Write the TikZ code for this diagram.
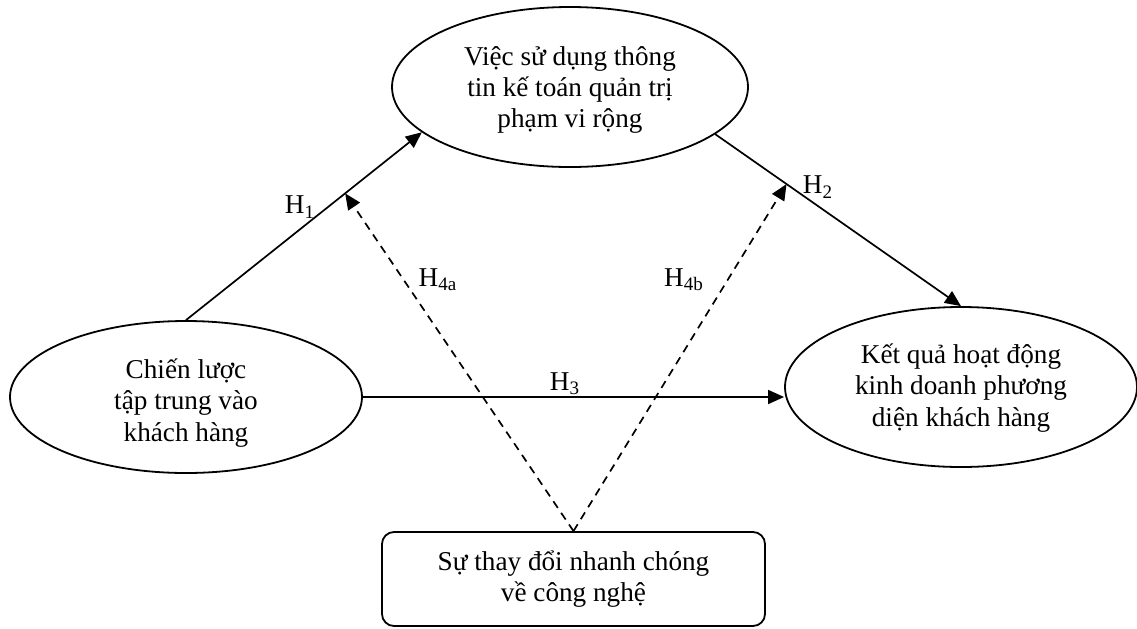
\documentclass[tikz,border=0pt]{standalone}
\usepackage{fontspec}
\setmainfont{Liberation Serif}
\usetikzlibrary{arrows.meta,shapes.geometric,calc}
\begin{document}
\begin{tikzpicture}[x=0.5pt,y=-0.5pt,
  every node/.style={font=\fontsize{13.6}{15.6}\selectfont},
  oval/.style={ellipse,draw,line width=0.9pt,inner sep=0pt},
  txt/.style={align=center,inner sep=0pt},
  tbox/.style={rectangle,draw,line width=0.9pt,rounded corners=6pt,align=center,
    minimum width=191.5pt,minimum height=47pt},
  link/.style={line width=0.85pt,-{Triangle[length=8pt,width=7pt]}},
  dlink/.style={link,dash pattern=on 4pt off 3pt},
  lbl/.style={inner sep=0pt}]
\useasboundingbox (0,0) rectangle (1137,628);
\node[oval,minimum width=178pt,minimum height=80pt,
  label={[txt,yshift=-1.5pt]center:Việc sử dụng thông\\tin kế toán quản trị\\phạm vi rộng}] (t) at (570,87) {};
\node[oval,minimum width=176pt,minimum height=76pt,
  label={[txt,yshift=-3pt]center:Chiến lược\\tập trung vào\\khách hàng}] (l) at (186,397) {};
\node[oval,minimum width=176pt,minimum height=80pt,
  label={[txt,yshift=-0.5pt]center:Kết quả hoạt động\\kinh doanh phương\\diện khách hàng}] (r) at (961,387) {};
\node[tbox] (b) at (573.5,579) {Sự thay đổi nhanh chóng\\về công nghệ};
\draw[link] (l.north) -- (t.197) coordinate[pos=0.675] (m1);
\draw[link] (t.342) -- (r.north) coordinate[pos=0.29] (m2);
\draw[link] (l.east) -- (l.east -| r.west);
\draw[dlink] (b.north) -- (m1);
\draw[dlink] (b.north) -- (m2);
\node[lbl] (h1) at (300,207) {H\textsubscript{1}};
\node[lbl] (h2) at (818,187) {H\textsubscript{2}};
\node[lbl] (h3) at (565,384) {H\textsubscript{3}};
\node[lbl] (h4a) at (438,280) {H\textsubscript{4a}};
\node[lbl] (h4b) at (684,280) {H\textsubscript{4b}};
\end{tikzpicture}
\end{document}
